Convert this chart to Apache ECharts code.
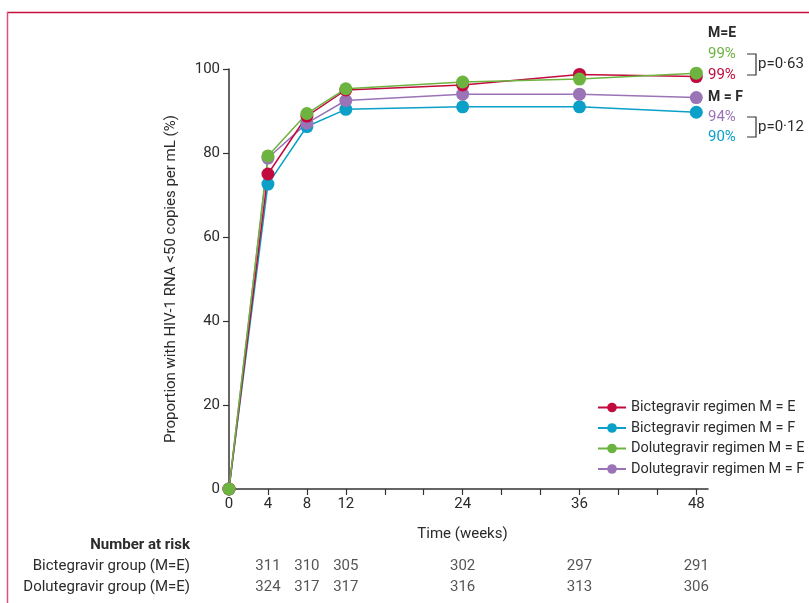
<!DOCTYPE html>
<html>
<head>
<meta charset="utf-8">
<script src="https://cdn.jsdelivr.net/npm/echarts@6/dist/echarts.min.js"></script>
<style>html,body{margin:0;padding:0;background:#fff}#c{width:809px;height:603px}</style>
</head>
<body>
<div id="c"></div>
<script>
const weeks = [0, 4, 8, 12, 24, 36, 48];
const bicE = [0, 75.0, 88.8, 95.0, 96.2, 98.7, 98.2];
const bicF = [0, 72.6, 86.3, 90.4, 91.0, 91.0, 89.7];
const dolE = [0, 79.3, 89.4, 95.3, 96.9, 97.6, 99.0];
const dolF = [0, 78.8, 87.1, 92.5, 94.0, 94.0, 93.2];
const riskWeeks = [4, 8, 12, 24, 36, 48];
const riskBic = [311, 310, 305, 302, 297, 291];
const riskDol = [324, 317, 317, 316, 313, 306];
const rowNames = ['Bictegravir group (M=E)', 'Dolutegravir group (M=E)'];
const xTicks = [0, 4, 8, 12, 16, 20, 24, 28, 32, 36, 40, 44, 48];
const xLabels = [0, 4, 8, 12, 24, 36, 48];

const names = ['Bictegravir regimen M = E', 'Bictegravir regimen M = F', 'Dolutegravir regimen M = E', 'Dolutegravir regimen M = F'];
const colors = {red: '#c20a3e', blue: '#0aa0c8', green: '#6cb43f', purple: '#9b73b7'};
const FONT = 'Roboto, "Liberation Sans", sans-serif';
const TXT = '#2b2b2b';

function pts(arr) { return weeks.map((w, i) => [w, arr[i]]); }
function lineSeries(name, color, arr) {
  return {
    name, type: 'line', xAxisIndex: 0, yAxisIndex: 0, data: pts(arr),
    symbol: 'circle', symbolSize: 13, showSymbol: true,
    lineStyle: {color, width: 1.5}, itemStyle: {color},
    emphasis: {disabled: true}, animation: false
  };
}
const risk = [];
riskWeeks.forEach((w, i) => { risk.push([w, rowNames[0], riskBic[i]]); risk.push([w, rowNames[1], riskDol[i]]); });

const chart = echarts.init(document.getElementById('c'), null, {renderer: 'canvas'});
chart.setOption({
  animation: false,
  textStyle: {fontFamily: FONT},
  grid: [
    {left: 229, right: 101, top: 69, bottom: 114},
    {left: 229, right: 101, top: 556, height: 42}
  ],
  xAxis: [{
    type: 'value', gridIndex: 0, min: 0, max: 49.2,
    name: 'Time (weeks)', nameLocation: 'middle', nameGap: 38,
    nameTextStyle: {fontSize: 15, color: TXT, fontFamily: FONT, padding: [0, 12, 0, 0]},
    axisLine: {show: true, lineStyle: {color: '#333', width: 1.5}},
    axisTick: {show: true, length: 6, lineStyle: {color: '#333', width: 1.2}, customValues: xTicks},
    axisLabel: {fontSize: 15, color: TXT, margin: 8, fontFamily: FONT, customValues: xLabels},
    splitLine: {show: false}
  }, {
    type: 'value', gridIndex: 1, min: 0, max: 49.2, show: false
  }],
  yAxis: [{
    type: 'value', gridIndex: 0, min: 0, max: 100, interval: 20,
    name: 'Proportion with HIV-1 RNA <50 copies per mL (%)', nameLocation: 'middle', nameGap: 50,
    nameTextStyle: {fontSize: 15, color: TXT, fontFamily: FONT},
    axisLine: {show: true, lineStyle: {color: '#333', width: 1.5}},
    axisTick: {show: true, length: 6, lineStyle: {color: '#333', width: 1.2}},
    axisLabel: {fontSize: 15, color: TXT, margin: 9, fontFamily: FONT},
    splitLine: {show: false}
  }, {
    type: 'category', gridIndex: 1, data: rowNames, inverse: true,
    axisLine: {show: false}, axisTick: {show: false},
    axisLabel: {fontSize: 15, color: TXT, margin: 39, fontFamily: FONT}
  }],
  legend: {
    data: names, orient: 'vertical', left: 592, top: 395, padding: [5, 5, 5, 5],
    itemWidth: 28, itemHeight: 12, itemGap: 5.5,
    textStyle: {fontSize: 14.5, color: TXT, fontFamily: FONT},
    selectedMode: false
  },
  series: [
    lineSeries(names[1], colors.blue, bicF),
    lineSeries(names[3], colors.purple, dolF),
    lineSeries(names[0], colors.red, bicE),
    lineSeries(names[2], colors.green, dolE),
    {
      type: 'scatter', xAxisIndex: 1, yAxisIndex: 1, data: risk, symbolSize: 0,
      label: {show: true, position: 'inside', formatter: p => String(p.value[2]), fontSize: 15, color: TXT, fontFamily: FONT},
      emphasis: {disabled: true}, silent: true
    }
  ],
  graphic: [
    {type: 'line', shape: {x1: 7, y1: 12.5, x2: 809, y2: 12.5}, style: {stroke: '#c4103f', lineWidth: 1.5}, silent: true},
    {type: 'line', shape: {x1: 7.5, y1: 12, x2: 7.5, y2: 603}, style: {stroke: '#d9547c', lineWidth: 1.5}, silent: true},
    {type: 'text', x: 190, y: 545, style: {text: 'Number at risk', font: 'bold 15px ' + FONT, fill: TXT, align: 'right', verticalAlign: 'middle'}},
    {type: 'text', x: 708, y: 33, style: {text: 'M=E', font: 'bold 14px ' + FONT, fill: TXT, verticalAlign: 'middle'}},
    {type: 'text', x: 708, y: 54, style: {text: '99%', font: '15px ' + FONT, fill: colors.green, verticalAlign: 'middle'}},
    {type: 'text', x: 708, y: 75, style: {text: '99%', font: '15px ' + FONT, fill: colors.red, verticalAlign: 'middle'}},
    {type: 'text', x: 708, y: 97, style: {text: 'M = F', font: 'bold 14px ' + FONT, fill: TXT, verticalAlign: 'middle'}},
    {type: 'text', x: 708, y: 117, style: {text: '94%', font: '15px ' + FONT, fill: colors.purple, verticalAlign: 'middle'}},
    {type: 'text', x: 708, y: 137, style: {text: '90%', font: '15px ' + FONT, fill: colors.blue, verticalAlign: 'middle'}},
    {type: 'polyline', shape: {points: [[747, 54], [756, 54], [756, 75], [747, 75]]}, style: {stroke: '#333', lineWidth: 1.2, fill: null}},
    {type: 'polyline', shape: {points: [[747, 117], [756, 117], [756, 137], [747, 137]]}, style: {stroke: '#333', lineWidth: 1.2, fill: null}},
    {type: 'text', x: 758, y: 64, style: {text: 'p=0·63', font: '15px ' + FONT, fill: TXT, verticalAlign: 'middle'}},
    {type: 'text', x: 758, y: 127, style: {text: 'p=0·12', font: '15px ' + FONT, fill: TXT, verticalAlign: 'middle'}}
  ]
});
</script>
</body>
</html>
